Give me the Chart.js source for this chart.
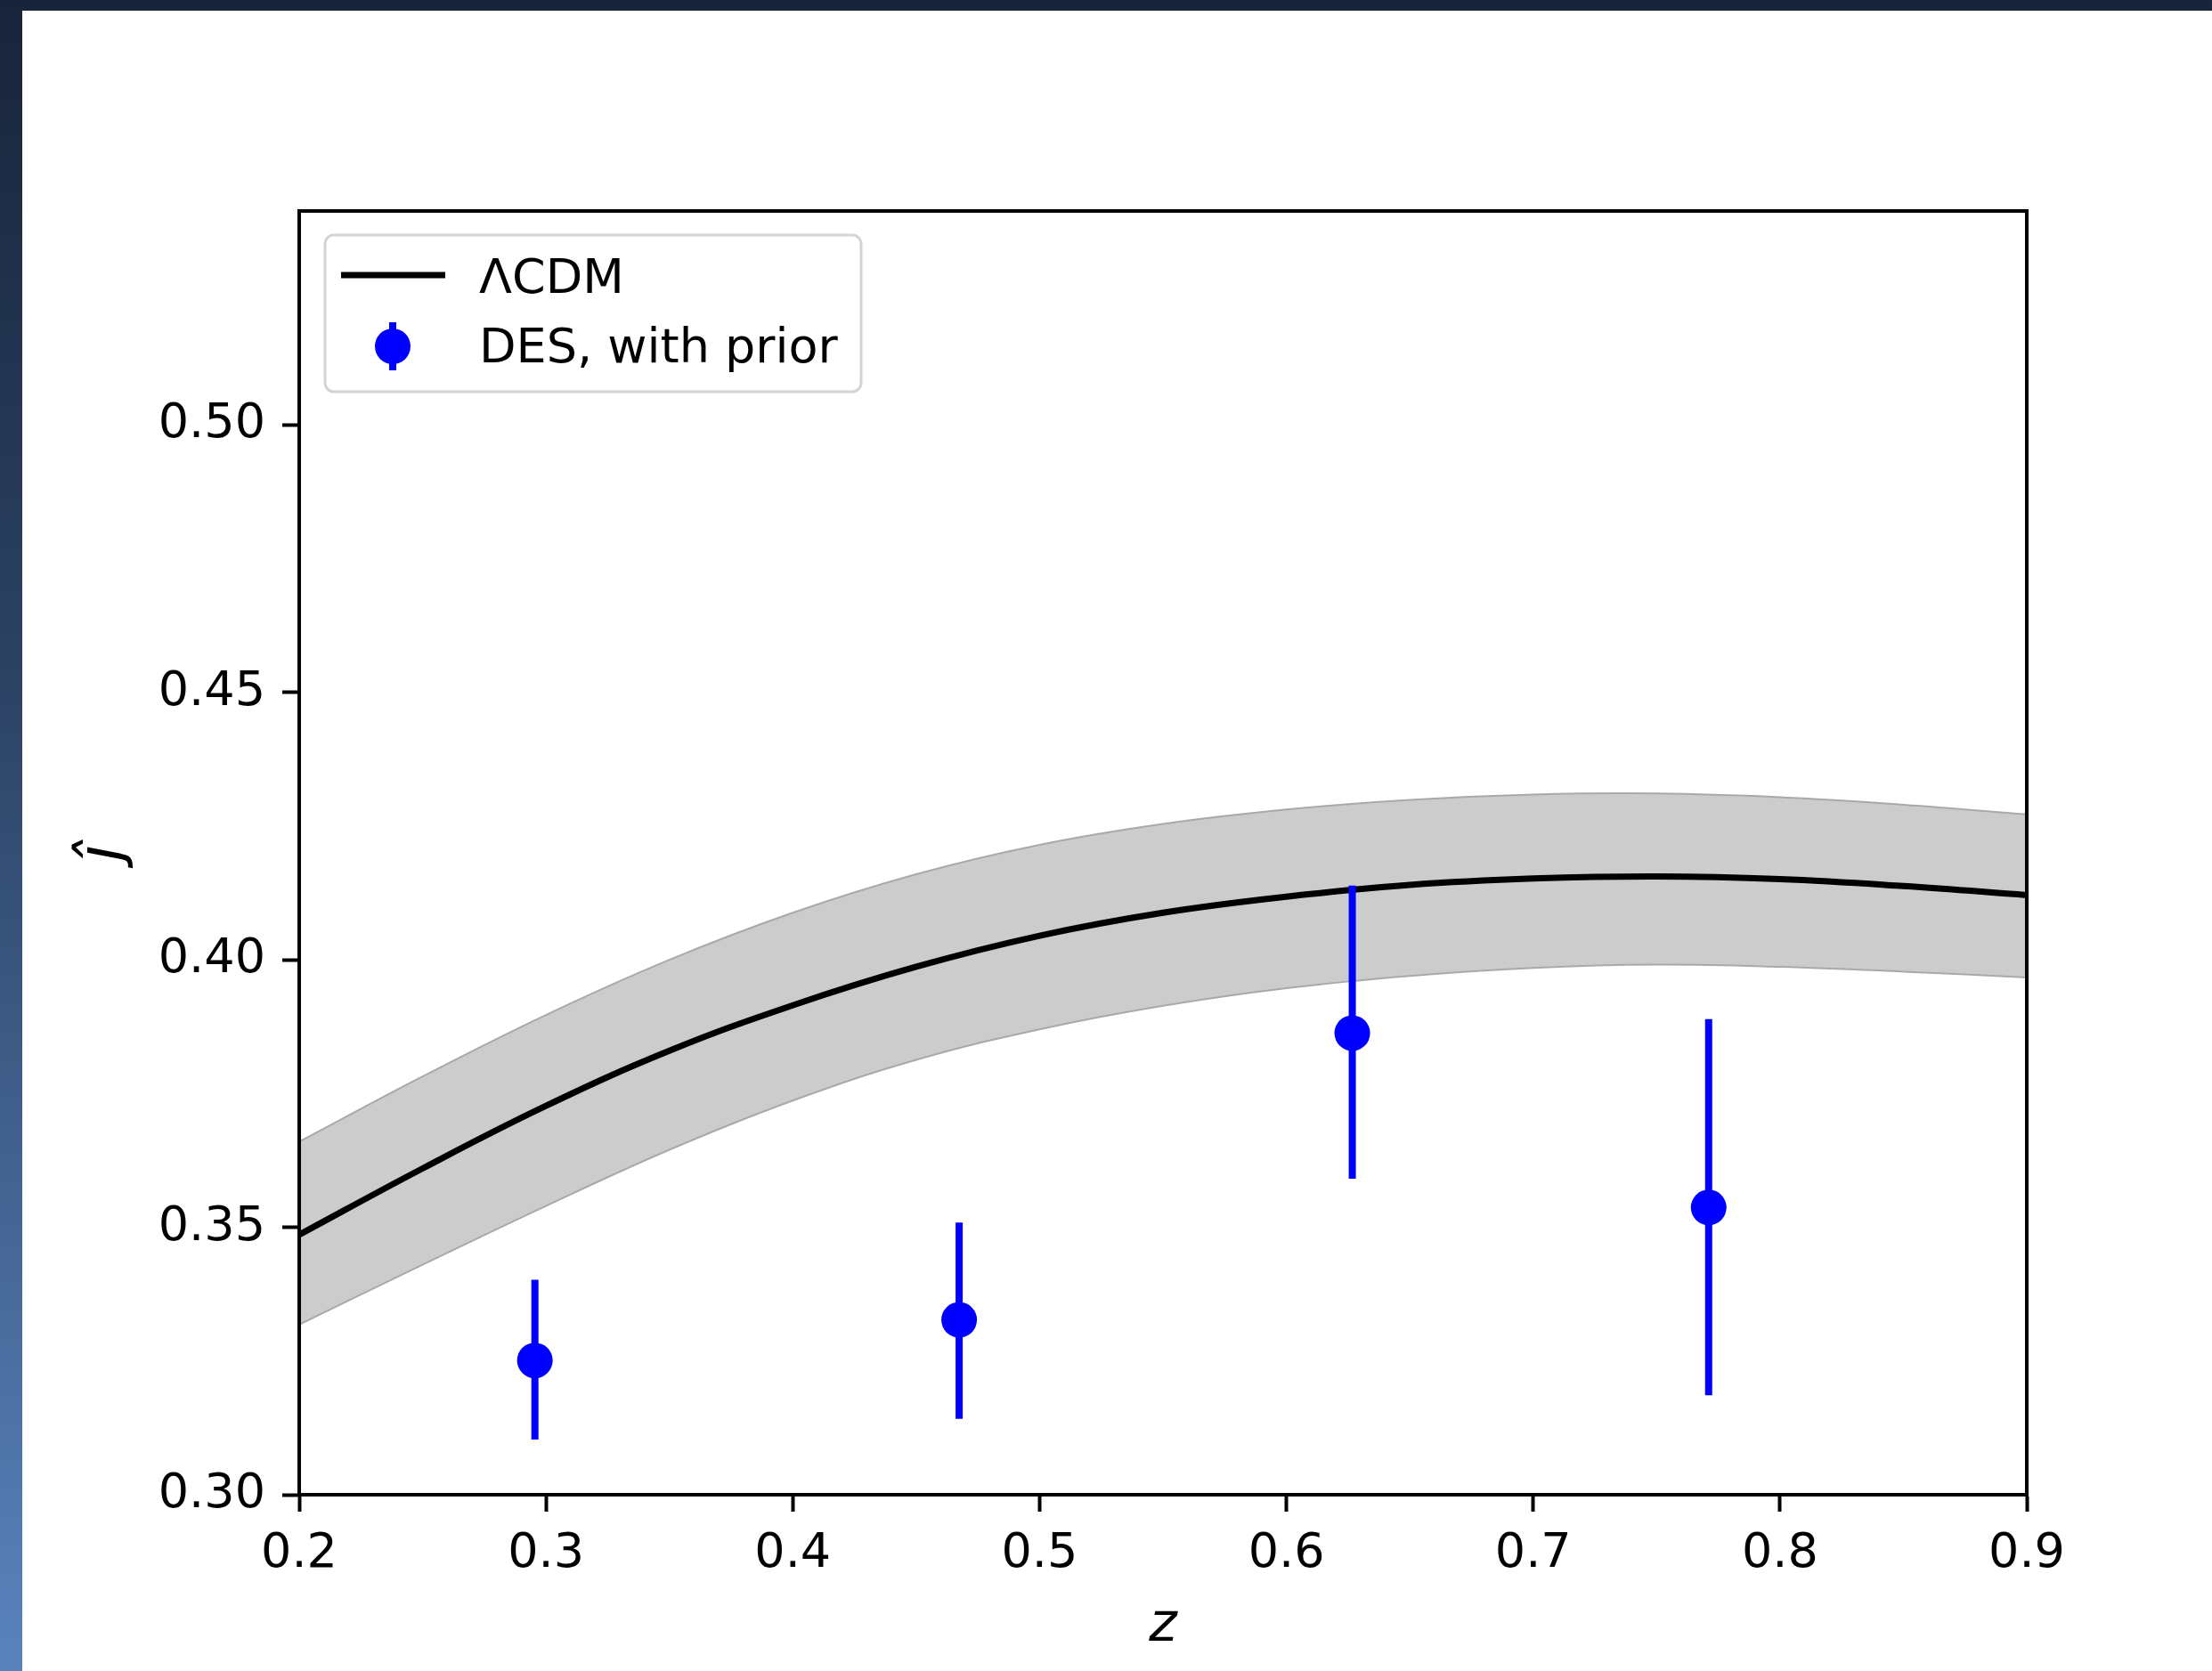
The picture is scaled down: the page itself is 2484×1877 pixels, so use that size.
<!DOCTYPE html>
<html lang="en">
<head>
    <meta charset="UTF-8">
    <title>j-hat vs z</title>
    <script src="https://cdn.jsdelivr.net/npm/chart.js"></script>
</head>
<style>
    html, body{
        margin: 0;
        padding: 0;
        width: 2484px;
        height: 1877px;
        overflow: hidden;
    }

    body{
        background: linear-gradient(to bottom, #18243a 0%, #2b4263 40%, #5a83bd 100%);
    }

    .panel{
        position: absolute;
        left: 25px;
        top: 12px;
        width: 2459px;
        height: 1865px;
        background: #ffffff;
    }

    .panel canvas{
        display: block;
    }
</style>
<body>

<div class="panel">
    <canvas id="jChart" width="2459" height="1865"></canvas>
</div>

<script>
    // LCDM prediction sampled along z (mean and 1-sigma band)
    const zGrid     = [0.20, 0.25, 0.30, 0.35, 0.40, 0.45, 0.50, 0.55, 0.60, 0.65, 0.70, 0.75, 0.80, 0.85, 0.90];
    const lcdmMean  = [0.3486, 0.3610, 0.3727, 0.3830, 0.3915, 0.3987, 0.4045, 0.4088, 0.4118, 0.4140, 0.4152, 0.4156, 0.4151, 0.4138, 0.4121];
    const lcdmUpper = [0.3660, 0.3782, 0.3897, 0.4000, 0.4088, 0.4160, 0.4215, 0.4254, 0.4281, 0.4299, 0.4309, 0.4311, 0.4304, 0.4290, 0.4272];
    const lcdmLower = [0.3318, 0.3430, 0.3540, 0.3645, 0.3737, 0.3813, 0.3870, 0.3914, 0.3947, 0.3970, 0.3985, 0.3991, 0.3987, 0.3978, 0.3967];

    // DES measurements with error bars
    const desZ       = [0.2955, 0.4674, 0.6267, 0.7711];
    const desJ       = [0.3251, 0.3327, 0.3863, 0.3537];
    const desErrLow  = [0.3103, 0.3142, 0.3591, 0.3186];
    const desErrHigh = [0.3402, 0.3509, 0.4139, 0.3889];

    const xTicks = [0.2, 0.3, 0.4, 0.5, 0.6, 0.7, 0.8, 0.9];
    const yTicks = [0.30, 0.35, 0.40, 0.45, 0.50];

    const toXY = (xs, ys) => xs.map((x, i) => ({x: x, y: ys[i]}));

    // error bars as one line with gaps between the segments
    const errSegments = [];
    desZ.forEach((z, i) => {
        errSegments.push({x: z, y: desErrLow[i]}, {x: z, y: desErrHigh[i]}, {x: z, y: null});
    });

    // box around the plotting area (matplotlib style)
    const frame = {
        id: 'frame',
        afterDatasetsDraw(chart) {
            const {ctx, chartArea} = chart;
            ctx.save();
            ctx.lineWidth = 4;
            ctx.strokeStyle = '#000';
            ctx.strokeRect(chartArea.left, chartArea.top, chartArea.right - chartArea.left, chartArea.bottom - chartArea.top);
            ctx.restore();
        }
    };

    // legend box in the upper left corner of the axes
    const legendBox = {
        id: 'legendBox',
        afterDraw(chart) {
            const {ctx, chartArea} = chart;
            const ds = chart.data.datasets;
            const x0 = chartArea.left + 29, y0 = chartArea.top + 27;
            ctx.save();
            ctx.beginPath();
            ctx.roundRect(x0, y0, 602, 176, 10);
            ctx.fillStyle = 'rgba(255,255,255,0.8)';
            ctx.fill();
            ctx.lineWidth = 3;
            ctx.strokeStyle = '#d4d4d4';
            ctx.stroke();

            // LCDM line sample
            ctx.beginPath();
            ctx.moveTo(x0 + 18, y0 + 45);
            ctx.lineTo(x0 + 135, y0 + 45);
            ctx.lineWidth = ds[2].borderWidth;
            ctx.strokeStyle = ds[2].borderColor;
            ctx.stroke();

            // DES marker with small error bar
            ctx.beginPath();
            ctx.moveTo(x0 + 76, y0 + 98);
            ctx.lineTo(x0 + 76, y0 + 152);
            ctx.lineWidth = 8;
            ctx.strokeStyle = ds[0].backgroundColor;
            ctx.stroke();
            ctx.beginPath();
            ctx.arc(x0 + 76, y0 + 125, ds[0].pointRadius, 0, Math.PI * 2);
            ctx.fillStyle = ds[0].backgroundColor;
            ctx.fill();

            ctx.fillStyle = '#000';
            ctx.font = "54px 'DejaVu Sans'";
            ctx.textAlign = 'left';
            ctx.textBaseline = 'alphabetic';
            ctx.fillText(ds[2].label, x0 + 173, y0 + 65);
            ctx.fillText(ds[0].label, x0 + 173, y0 + 143);
            ctx.restore();
        }
    };

    Chart.defaults.font.family = "'DejaVu Sans'";
    Chart.defaults.font.size = 54;
    Chart.defaults.color = '#000';

    const ctx = document.getElementById("jChart").getContext("2d");
    new Chart(ctx, {
        type: "line",
        data: {
            datasets: [
                {
                    label: "DES, with prior",
                    data: toXY(desZ, desJ),
                    showLine: false,
                    pointRadius: 20,
                    pointBorderWidth: 0,
                    backgroundColor: "#0000ff",
                    borderColor: "#0000ff",
                },
                {
                    label: "DES errors",
                    data: errSegments,
                    borderColor: "#0000ff",
                    borderWidth: 8,
                    borderCapStyle: "butt",
                    pointRadius: 0,
                    spanGaps: false,
                },
                {
                    label: "ΛCDM",
                    data: toXY(zGrid, lcdmMean),
                    borderColor: "#000000",
                    borderWidth: 7,
                    pointRadius: 0,
                    tension: 0.4,
                },
                {
                    label: "band upper",
                    data: toXY(zGrid, lcdmUpper),
                    borderColor: "#a9a9a9",
                    borderWidth: 2,
                    backgroundColor: "#cccccc",
                    pointRadius: 0,
                    fill: "+1",
                    tension: 0.4,
                },
                {
                    label: "band lower",
                    data: toXY(zGrid, lcdmLower),
                    borderColor: "#a9a9a9",
                    borderWidth: 2,
                    pointRadius: 0,
                    fill: false,
                    tension: 0.4,
                },
            ],
        },
        options: {
            responsive: false,
            animation: false,
            devicePixelRatio: 1,
            layout: {
                padding: {top: 225, right: 208, left: 0, bottom: 0},
            },
            plugins: {
                legend: {display: false},
                tooltip: {enabled: false},
                filler: {drawTime: "beforeDatasetsDraw"},
            },
            scales: {
                x: {
                    type: "linear",
                    min: 0.2,
                    max: 0.9,
                    offset: false,
                    afterBuildTicks: s => { s.ticks = xTicks.map(v => ({value: v})); },
                    afterFit: s => { s.height = 198; },
                    ticks: {
                        callback: v => v.toFixed(1),
                        padding: 16,
                        maxRotation: 0,
                        autoSkip: false,
                    },
                    grid: {drawOnChartArea: false, tickLength: 19, tickWidth: 4, tickColor: "#000"},
                    border: {display: true, color: "#000", width: 4},
                    title: {
                        display: true,
                        text: "z",
                        font: {size: 60, style: "italic"},
                        padding: {top: 0, bottom: 14},
                    },
                },
                y: {
                    type: "linear",
                    min: 0.30,
                    max: 0.54,
                    afterBuildTicks: s => { s.ticks = yTicks.map(v => ({value: v})); },
                    afterFit: s => { s.width = 311; },
                    ticks: {
                        callback: v => v.toFixed(2),
                        padding: 19,
                    },
                    grid: {drawOnChartArea: false, tickLength: 19, tickWidth: 4, tickColor: "#000"},
                    border: {display: true, color: "#000", width: 4},
                    title: {
                        display: true,
                        text: "ĵ",
                        font: {size: 68, style: "italic"},
                        padding: {top: 52, bottom: 0},
                    },
                },
            },
        },
        plugins: [frame, legendBox],
    });
</script>

</body>
</html>
